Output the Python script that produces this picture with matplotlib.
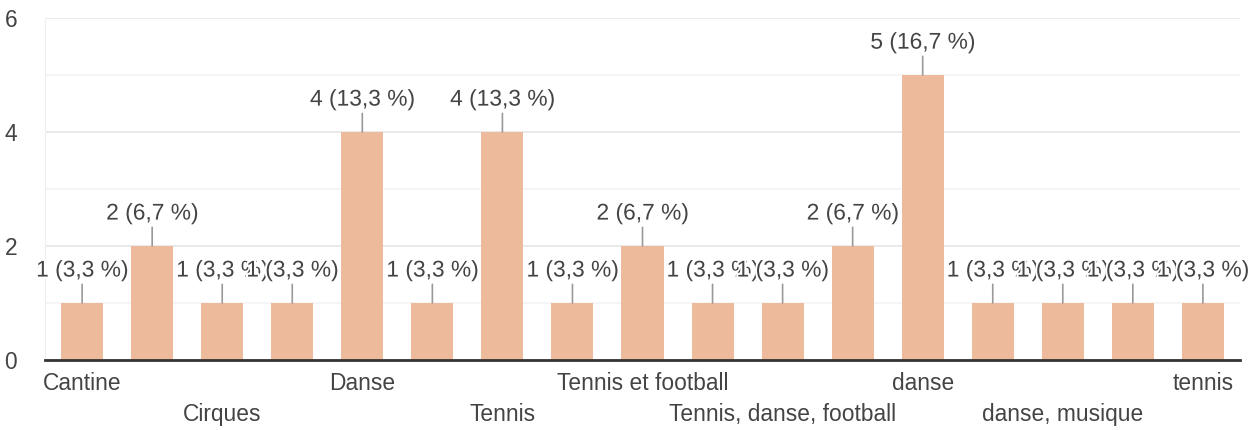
import matplotlib
matplotlib.use("Agg")
import matplotlib.pyplot as plt
import matplotlib.patheffects as pe

# answers in form order; labels of every other bar are hidden in the chart
categories = ["Cantine", "", "Cirques", "", "Danse", "", "Tennis", "",
              "Tennis et football", "", "Tennis, danse, football", "",
              "danse", "", "danse, musique", "", "tennis"]
counts = [1, 2, 1, 1, 4, 1, 4, 1, 2, 1, 1, 2, 5, 1, 1, 1, 1]

bar_color = "#EDBA9C"
text_color = "#444444"
plt.rcParams["font.family"] = ["Liberation Sans", "DejaVu Sans"]

total = sum(counts)
x = list(range(len(counts)))

fig = plt.figure(figsize=(12.5, 4.3), dpi=100)
ax = fig.add_axes([0.036, 0.163, 0.956, 0.795])

ax.bar(x, counts, width=0.6, color=bar_color, zorder=2)

# annotations with a short stem, later ones drawn over earlier ones
for i, v in enumerate(counts):
    pct = ("%.1f" % (100.0 * v / total)).replace(".", ",")
    ax.annotate("%d (%s %%)" % (v, pct), xy=(i, v), xytext=(0, 19),
                textcoords="offset points", ha="center", va="baseline",
                fontsize=16.4, color=text_color, zorder=5 + i,
                annotation_clip=False,
                path_effects=[pe.withStroke(linewidth=3, foreground="white")],
                arrowprops=dict(arrowstyle="-", color="#999999", lw=1.2,
                                shrinkA=0, shrinkB=0))

ax.set_xlim(-0.53, len(counts) - 0.47)
ax.set_ylim(0, 6)

ax.set_yticks([0, 2, 4, 6])
ax.grid(axis="y", which="major", color="#e6e6e6", lw=1.2, zorder=0)
for yv in [1, 3, 5]:
    ax.axhline(yv, color="#f3f3f3", lw=1.2, zorder=0)
ax.tick_params(axis="y", which="both", length=0, pad=20, labelsize=16.4,
               labelcolor=text_color)

# two staggered rows of category labels: major ticks top row, minor ticks lower row
shown = [(i, c) for i, c in enumerate(categories) if c != ""]
row1 = shown[0::2]
row2 = shown[1::2]
ax.set_xticks([i for i, c in row1])
ax.set_xticklabels([c for i, c in row1], fontsize=16.4, color=text_color)
ax.set_xticks([i for i, c in row2], minor=True)
ax.set_xticklabels([c for i, c in row2], minor=True, fontsize=16.4,
                   color=text_color)
ax.tick_params(axis="x", which="major", length=0, pad=9)
ax.tick_params(axis="x", which="minor", length=0, pad=31)

for s in ["top", "right"]:
    ax.spines[s].set_visible(False)
ax.spines["left"].set_color("#eeeeee")
ax.spines["bottom"].set_color("#333333")
ax.spines["bottom"].set_linewidth(2)
ax.spines["bottom"].set_zorder(3)

fig.savefig("out.png", dpi=100, facecolor="white")
